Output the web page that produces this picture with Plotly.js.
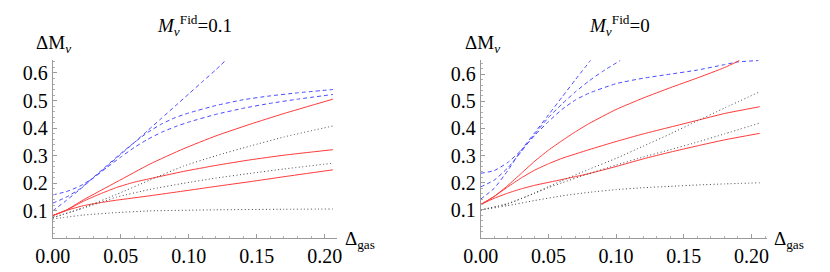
<!DOCTYPE html>
<html>
<head>
<meta charset="utf-8">
<script src="https://cdn.plot.ly/plotly-3.0.1.min.js"></script>
<style>
html,body{margin:0;padding:0;background:#fff;}
#chart{width:830px;height:272px;}
</style>
</head>
<body>
<div id="chart"></div>
<script>
// ---- Left panel: M_nu^Fid = 0.1 ----
const L_blueA_x = [0, 0.01, 0.02, 0.03, 0.04, 0.05, 0.06, 0.07, 0.08, 0.09, 0.10, 0.11, 0.12, 0.127];
const L_blueA_y = [0.100, 0.138, 0.178, 0.220, 0.262, 0.305, 0.348, 0.392, 0.436, 0.480, 0.524, 0.568, 0.612, 0.645];
const L_blueB_x = [0, 0.01, 0.02, 0.03, 0.04, 0.05, 0.06, 0.07, 0.08, 0.09, 0.10, 0.12, 0.14, 0.16, 0.18, 0.206];
const L_blueB_y = [0.128, 0.150, 0.180, 0.222, 0.265, 0.308, 0.348, 0.385, 0.415, 0.438, 0.455, 0.482, 0.503, 0.517, 0.528, 0.540];
const L_blueC_x = [0, 0.01, 0.02, 0.03, 0.04, 0.05, 0.06, 0.07, 0.08, 0.09, 0.10, 0.12, 0.14, 0.16, 0.18, 0.206];
const L_blueC_y = [0.158, 0.170, 0.190, 0.220, 0.258, 0.295, 0.330, 0.360, 0.385, 0.405, 0.422, 0.450, 0.472, 0.490, 0.505, 0.522];
const L_red1_x = [0, 0.01, 0.0225, 0.047, 0.0715, 0.096, 0.12, 0.145, 0.17, 0.206];
const L_red1_y = [0.083, 0.103, 0.140, 0.205, 0.270, 0.325, 0.372, 0.414, 0.453, 0.505];
const L_red2_x = [0, 0.011, 0.0225, 0.035, 0.047, 0.059, 0.0715, 0.096, 0.12, 0.145, 0.17, 0.206];
const L_red2_y = [0.083, 0.105, 0.135, 0.162, 0.185, 0.203, 0.217, 0.243, 0.265, 0.285, 0.302, 0.322];
const L_red3_x = [0, 0.011, 0.0225, 0.035, 0.047, 0.0715, 0.096, 0.12, 0.145, 0.17, 0.206];
const L_red3_y = [0.083, 0.103, 0.119, 0.130, 0.139, 0.155, 0.172, 0.189, 0.206, 0.224, 0.249];
const L_dot1_x = [0, 0.0225, 0.047, 0.0715, 0.096, 0.12, 0.145, 0.17, 0.206];
const L_dot1_y = [0.076, 0.112, 0.160, 0.212, 0.262, 0.300, 0.335, 0.368, 0.408];
const L_dot2_x = [0, 0.0225, 0.047, 0.0715, 0.096, 0.12, 0.145, 0.17, 0.206];
const L_dot2_y = [0.075, 0.110, 0.150, 0.178, 0.200, 0.219, 0.236, 0.252, 0.273];
const L_dot3_x = [0, 0.0225, 0.047, 0.0715, 0.12, 0.17, 0.206];
const L_dot3_y = [0.071, 0.085, 0.094, 0.100, 0.104, 0.106, 0.107];

// ---- Right panel: M_nu^Fid = 0 ----
const R_blueA_x = [0, 0.01, 0.02, 0.03, 0.04, 0.05, 0.06, 0.07, 0.081];
const R_blueA_y = [0.140, 0.180, 0.245, 0.320, 0.385, 0.450, 0.515, 0.580, 0.650];
const R_blueB_x = [0, 0.01, 0.02, 0.03, 0.04, 0.05, 0.06, 0.07, 0.08, 0.09, 0.103];
const R_blueB_y = [0.185, 0.210, 0.255, 0.315, 0.380, 0.440, 0.490, 0.535, 0.575, 0.610, 0.650];
const R_blueC_x = [0, 0.01, 0.02, 0.03, 0.04, 0.05, 0.06, 0.07, 0.08, 0.10, 0.12, 0.14, 0.16, 0.18, 0.19, 0.205];
const R_blueC_y = [0.235, 0.245, 0.275, 0.320, 0.375, 0.425, 0.470, 0.505, 0.530, 0.565, 0.585, 0.600, 0.615, 0.635, 0.645, 0.650];
const R_red1_x = [0, 0.01, 0.02, 0.03, 0.04, 0.05, 0.06, 0.07, 0.08, 0.10, 0.12, 0.14, 0.16, 0.18, 0.191];
const R_red1_y = [0.120, 0.150, 0.190, 0.235, 0.280, 0.320, 0.355, 0.388, 0.418, 0.470, 0.512, 0.550, 0.586, 0.624, 0.650];
const R_red2_x = [0, 0.01, 0.02, 0.03, 0.04, 0.05, 0.06, 0.08, 0.10, 0.12, 0.14, 0.16, 0.18, 0.206];
const R_red2_y = [0.120, 0.150, 0.185, 0.218, 0.247, 0.270, 0.290, 0.322, 0.352, 0.380, 0.405, 0.430, 0.455, 0.480];
const R_red3_x = [0, 0.01, 0.02, 0.03, 0.04, 0.06, 0.08, 0.10, 0.12, 0.14, 0.16, 0.18, 0.206];
const R_red3_y = [0.120, 0.143, 0.162, 0.178, 0.191, 0.212, 0.234, 0.260, 0.288, 0.313, 0.336, 0.358, 0.382];
const R_dot1_x = [0, 0.02, 0.04, 0.05, 0.06, 0.08, 0.10, 0.12, 0.14, 0.16, 0.18, 0.206];
const R_dot1_y = [0.100, 0.122, 0.163, 0.186, 0.208, 0.250, 0.290, 0.335, 0.380, 0.428, 0.475, 0.535];
const R_dot2_x = [0, 0.02, 0.04, 0.05, 0.06, 0.08, 0.10, 0.12, 0.14, 0.16, 0.18, 0.206];
const R_dot2_y = [0.100, 0.124, 0.162, 0.182, 0.200, 0.234, 0.265, 0.295, 0.322, 0.350, 0.380, 0.420];
const R_dot3_x = [0, 0.02, 0.04, 0.06, 0.08, 0.10, 0.12, 0.14, 0.16, 0.18, 0.206];
const R_dot3_y = [0.100, 0.116, 0.135, 0.152, 0.165, 0.175, 0.182, 0.187, 0.192, 0.196, 0.200];

const xTickVals = [0, 0.05, 0.10, 0.15, 0.20];
const xTickText = ["0.00", "0.05", "0.10", "0.15", "0.20"];
const yTickVals = [0.1, 0.2, 0.3, 0.4, 0.5, 0.6];
const yTickText = ["0.1", "0.2", "0.3", "0.4", "0.5", "0.6"];
const panelTitles = ["<i>M</i><sub><i>ν</i></sub><sup>Fid</sup>=0.1", "<i>M</i><sub><i>ν</i></sub><sup>Fid</sup>=0"];
const yLabel = "ΔM<sub><i>ν</i></sub>";
const xLabel = "Δ<sub>gas</sub>";

const BLUE = "#4a4aff", RED = "#ff3a3a", DOT = "#444444";
const FONT = "Liberation Serif";

function tr(x, y, color, dash, xa, ya) {
  return {x: x, y: y, type: "scatter", mode: "lines", xaxis: xa, yaxis: ya,
    line: {color: color, width: 1, dash: dash, shape: "spline", smoothing: 0.5},
    hoverinfo: "skip", showlegend: false};
}
const DASH = "4px,3px", DOTS = "1px,2.5px";
const traces = [
  tr(L_blueA_x, L_blueA_y, BLUE, DASH, "x", "y"),
  tr(L_blueB_x, L_blueB_y, BLUE, DASH, "x", "y"),
  tr(L_blueC_x, L_blueC_y, BLUE, DASH, "x", "y"),
  tr(L_red1_x, L_red1_y, RED, "solid", "x", "y"),
  tr(L_red2_x, L_red2_y, RED, "solid", "x", "y"),
  tr(L_red3_x, L_red3_y, RED, "solid", "x", "y"),
  tr(L_dot1_x, L_dot1_y, DOT, DOTS, "x", "y"),
  tr(L_dot2_x, L_dot2_y, DOT, DOTS, "x", "y"),
  tr(L_dot3_x, L_dot3_y, DOT, DOTS, "x", "y"),
  tr(R_blueA_x, R_blueA_y, BLUE, DASH, "x2", "y2"),
  tr(R_blueB_x, R_blueB_y, BLUE, DASH, "x2", "y2"),
  tr(R_blueC_x, R_blueC_y, BLUE, DASH, "x2", "y2"),
  tr(R_red1_x, R_red1_y, RED, "solid", "x2", "y2"),
  tr(R_red2_x, R_red2_y, RED, "solid", "x2", "y2"),
  tr(R_red3_x, R_red3_y, RED, "solid", "x2", "y2"),
  tr(R_dot1_x, R_dot1_y, DOT, DOTS, "x2", "y2"),
  tr(R_dot2_x, R_dot2_y, DOT, DOTS, "x2", "y2"),
  tr(R_dot3_x, R_dot3_y, DOT, DOTS, "x2", "y2")
];

function xax(domain, range, anchor) {
  return {domain: domain, range: range, anchor: anchor, showgrid: false, zeroline: false,
    showline: true, linecolor: "#9a9a9a", linewidth: 1,
    ticks: "inside", ticklen: 4, tickcolor: "#9a9a9a", tickwidth: 1,
    tickvals: xTickVals, ticktext: xTickText,
    minor: {ticks: "inside", dtick: 0.01, tick0: 0, ticklen: 2, tickcolor: "#b0b0b0", showgrid: false},
    tickfont: {family: FONT, size: 20, color: "#000"}, fixedrange: true};
}
function yax(domain, range, anchor) {
  return {domain: domain, range: range, anchor: anchor, showgrid: false, zeroline: false,
    showline: true, linecolor: "#9a9a9a", linewidth: 1,
    ticks: "inside", ticklen: 4, tickcolor: "#9a9a9a", tickwidth: 1,
    tickvals: yTickVals, ticktext: yTickText,
    minor: {ticks: "inside", dtick: 0.02, tick0: 0, ticklen: 2, tickcolor: "#b0b0b0", showgrid: false},
    tickfont: {family: FONT, size: 20, color: "#000"}, fixedrange: true};
}

const yDom = [(272 - 237.7) / 272, (272 - 60) / 272];
const annFont = {family: FONT, size: 19, color: "#000"};
const layout = {
  width: 830, height: 272,
  margin: {l: 0, r: 0, t: 0, b: 0},
  paper_bgcolor: "#fff", plot_bgcolor: "#fff",
  showlegend: false,
  xaxis: xax([52.7 / 830, 336.7 / 830], [0, 0.2088], "y"),
  yaxis: yax(yDom, [0.003, 0.647], "x"),
  xaxis2: xax([480.7 / 830, 766.7 / 830], [0, 0.2112], "y2"),
  yaxis2: yax(yDom, [-0.002, 0.652], "x2"),
  font: {family: FONT, color: "#000"},
  annotations: [
    {text: panelTitles[0], xref: "paper", yref: "paper", x: 194 / 830, y: 1 - 25 / 272, xanchor: "center", yanchor: "middle", showarrow: false, font: annFont},
    {text: panelTitles[1], xref: "paper", yref: "paper", x: 619 / 830, y: 1 - 25 / 272, xanchor: "center", yanchor: "middle", showarrow: false, font: annFont},
    {text: yLabel, xref: "paper", yref: "paper", x: 34 / 830, y: 1 - 44 / 272, xanchor: "left", yanchor: "middle", showarrow: false, font: annFont},
    {text: yLabel, xref: "paper", yref: "paper", x: 463 / 830, y: 1 - 44 / 272, xanchor: "left", yanchor: "middle", showarrow: false, font: annFont},
    {text: xLabel, xref: "paper", yref: "paper", x: 343 / 830, y: 1 - 240 / 272, xanchor: "left", yanchor: "middle", showarrow: false, font: annFont},
    {text: xLabel, xref: "paper", yref: "paper", x: 772 / 830, y: 1 - 240 / 272, xanchor: "left", yanchor: "middle", showarrow: false, font: annFont}
  ]
};

Plotly.newPlot("chart", traces, layout, {staticPlot: true, displayModeBar: false});
</script>
</body>
</html>
